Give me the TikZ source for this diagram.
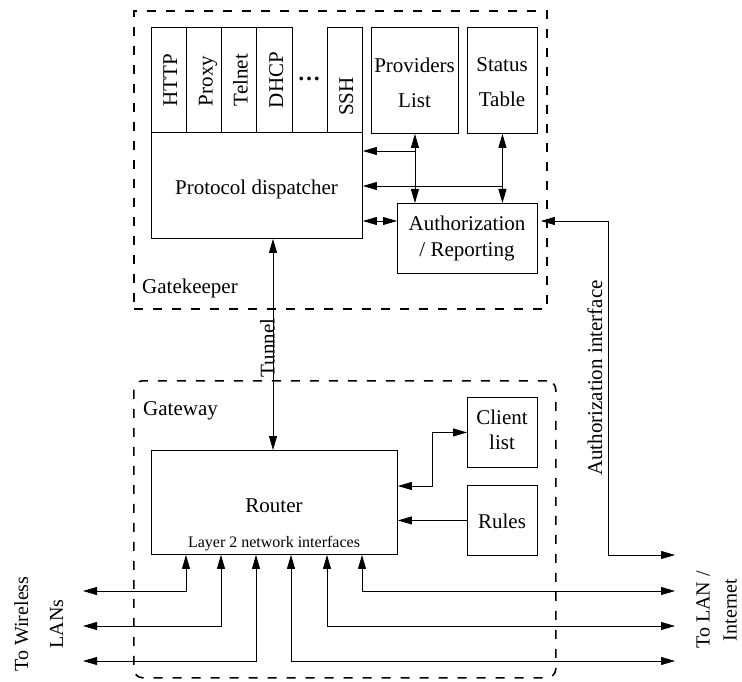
\documentclass[tikz,border=0pt]{standalone}
\usepackage{fontspec}
\setmainfont{Liberation Serif}
\usetikzlibrary{arrows.meta}
\begin{document}
\begin{tikzpicture}[x=1pt,y=-1pt,
  box/.style={draw, line width=0.9pt, inner sep=0pt, anchor=north west},
  container/.style={draw, line width=1.6pt, dash pattern=on 9pt off 10pt, inner sep=0pt, anchor=north west},
  txt/.style={font=\fontsize{21}{25}\selectfont, inner sep=0pt},
  rot/.style={txt, rotate=90, anchor=base},
  small/.style={font=\fontsize{16}{19}\selectfont, inner sep=0pt},
  conn/.style={line width=0.8pt},
  arr/.style={conn, -{Triangle[length=14pt,width=8pt]}},
  biarr/.style={conn, {Triangle[length=14pt,width=8pt]}-{Triangle[length=14pt,width=8pt]}}
]
\useasboundingbox (0,0) rectangle (742,682);

% containers
\node[container, minimum width=413pt, minimum height=298pt] (gatekeeper) at (133,10) {};
\node[container, rounded corners=9pt, minimum width=422pt, minimum height=297pt] (gateway) at (133,380) {};
\node[txt, anchor=base west] (gklabel) at (142,293) {Gatekeeper};
\node[txt, anchor=base west] (gwlabel) at (143,415) {Gateway};

% protocol modules
\node[box, minimum width=35pt, minimum height=105pt] (http) at (151,27) {};
\node[box, minimum width=35pt, minimum height=105pt] (proxy) at (186,27) {};
\node[box, minimum width=35pt, minimum height=105pt] (telnet) at (221,27) {};
\node[box, minimum width=36pt, minimum height=105pt] (dhcp) at (256,27) {};
\node[box, minimum width=35pt, minimum height=105pt] (ssh) at (327,27) {};
\node[rot] (thttp) at (177,80) {HTTP};
\node[rot] (tproxy) at (212.5,81) {Proxy};
\node[rot] (ttelnet) at (247.5,80) {Telnet};
\node[rot] (tdhcp) at (283,80) {DHCP};
\node[rot] (tssh) at (353,96.5) {SSH};
\node[inner sep=0pt, anchor=base, font=\fontsize{23}{23}\selectfont\bfseries] (dots) at (309,81) {…};

% dispatcher
\node[box, minimum width=211pt, minimum height=106pt] (disp) at (151,132) {};
\node[txt, anchor=base] (tdisp) at (256.5,195) {Protocol dispatcher};

% providers, status, auth
\node[box, minimum width=87pt, minimum height=106pt] (prov) at (371,27) {};
\node[txt, align=center, font=\fontsize{21}{35}\selectfont] (tprov) at (414.5,82.5) {Providers\\List};
\node[box, minimum width=70pt, minimum height=106pt] (stat) at (467,27) {};
\node[txt, align=center, font=\fontsize{21}{35}\selectfont] (tstat) at (502,82.5) {Status\\Table};
\node[box, minimum width=140pt, minimum height=70pt] (auth) at (397,203) {};
\node[txt, align=center, font=\fontsize{21}{26}\selectfont] (tauth) at (467,238) {Authorization\\/ Reporting};

% gateway parts
\node[box, minimum width=246pt, minimum height=104pt] (router) at (151,450) {};
\node[txt, anchor=base] (trouter) at (274,512) {Router};
\node[small, anchor=base] (tlayer) at (274,547) {Layer 2 network interfaces};
\node[box, minimum width=70pt, minimum height=70pt] (client) at (467,397) {};
\node[txt, align=center] (tclient) at (502,430) {Client\\list};
\node[box, minimum width=70pt, minimum height=70pt] (rules) at (467,485) {};
\node[txt] (trules) at (502,521) {Rules};

% helper coordinates
\coordinate (ya) at (0,151);
\coordinate (yb) at (0,186);
\coordinate (yc) at (0,221);
\coordinate (tx) at (273,0);
\coordinate (aix) at (608,0);
\coordinate (aiend) at (675,555);
\coordinate (cx) at (432,0);
\coordinate (cy) at (0,486);

% gatekeeper connectors
\draw[biarr] (prov.south) -- (prov.south |- auth.north);
\draw[biarr] (stat.south) -- (stat.south |- auth.north);
\draw[arr] (prov.south |- ya) -- (disp.east |- ya);
\draw[arr] (stat.south |- yb) -- (disp.east |- yb);
\draw[biarr] (disp.east |- yc) -- (auth.west |- yc);
\draw[biarr] ([xshift=3pt]auth.east |- yc) -- (aix |- yc) -- (aix |- aiend) -- (aiend);
\node[rot] (tai) at (602,378) {Authorization interface};

% tunnel
\draw[biarr] (tx |- disp.south) -- (tx |- router.north);
\node[rot] (ttunnel) at (274.5,348) {Tunnel};

% client list and rules
\draw[biarr] (client.west) -- (cx |- client.west) -- (cx |- cy) -- (router.east |- cy);
\draw[arr] (rules.west) -- (router.east |- rules.west);

% interfaces
\foreach \i/\x/\y/\e in {1/186/591/83, 2/221/626/83, 3/256/661/83, 4/291/661/675, 5/327/626/675, 6/362/591/675}{
  \coordinate (if\i) at (\e,\y);
  \coordinate (ifx\i) at (\x,0);
  \draw[biarr] (if\i) -- (ifx\i |- if\i) -- (ifx\i |- router.south);
}
\node[rot, align=center, anchor=center, font=\fontsize{20}{35}\selectfont] (twlan) at (38.7,624) {To Wireless\\LANs};
\node[rot, align=center, anchor=center, font=\fontsize{20}{27}\selectfont] (tlan) at (716.5,610) {To LAN /\\Internet};
\end{tikzpicture}
\end{document}
